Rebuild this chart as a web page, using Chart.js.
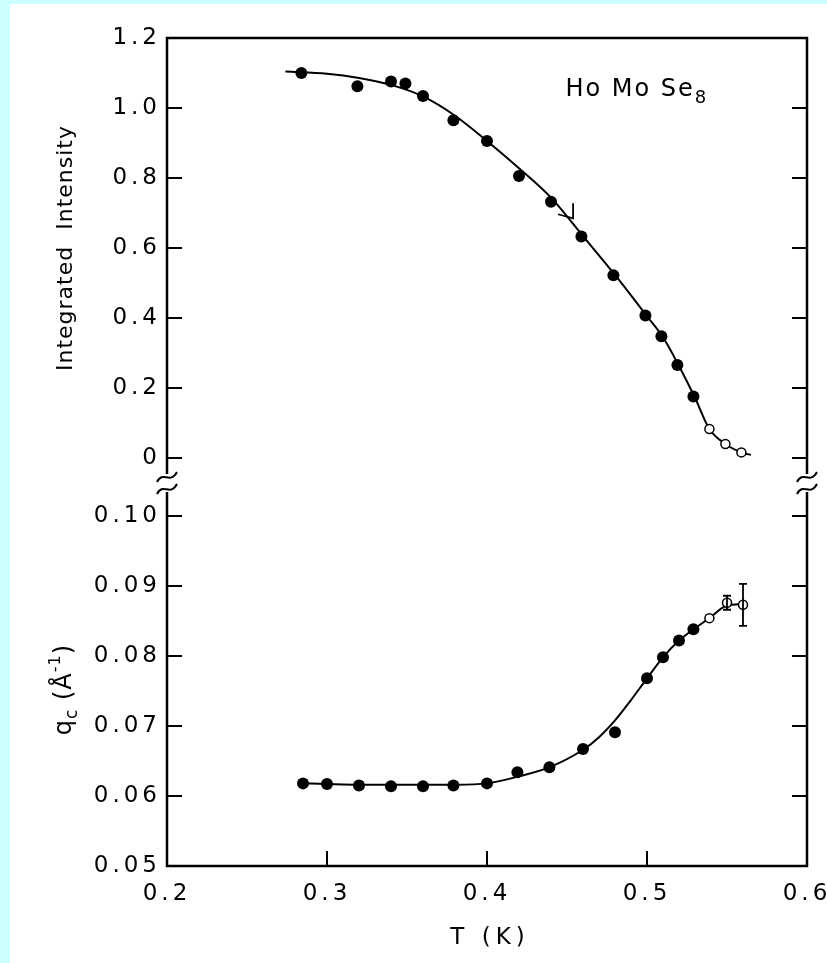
<!DOCTYPE html>
<html>
<head>
<meta charset="utf-8">
<script src="https://cdn.jsdelivr.net/npm/chart.js@4/dist/chart.umd.min.js"></script>
<style>
  html, body { margin: 0; padding: 0; background: #ccffff; }
  #wrap { position: absolute; left: 10px; top: 4px; width: 817px; height: 959px; background: #fff; }
</style>
</head>
<body>
<div id="wrap"><canvas id="myChart" width="817" height="959"></canvas></div>
<script>
'use strict';

// upper panel: integrated intensity vs T (K)
let intTempFilled = [0.284, 0.319, 0.340, 0.349, 0.360, 0.379, 0.400, 0.420, 0.440, 0.459, 0.479, 0.499, 0.509, 0.519, 0.529];
let intFilled = [1.100, 1.062, 1.076, 1.070, 1.034, 0.965, 0.906, 0.806, 0.732, 0.633, 0.522, 0.407, 0.348, 0.266, 0.176];
let intTempOpen = [0.539, 0.549, 0.559];
let intOpen = [0.083, 0.040, 0.016];
let intCurveT = [0.274, 0.30, 0.32, 0.34, 0.36, 0.38, 0.40, 0.42, 0.44, 0.46, 0.48, 0.50, 0.51, 0.52, 0.53, 0.539, 0.549, 0.559, 0.565];
let intCurve = [1.104, 1.098, 1.086, 1.066, 1.033, 0.978, 0.906, 0.828, 0.744, 0.634, 0.523, 0.405, 0.345, 0.263, 0.172, 0.083, 0.040, 0.016, 0.009];
// little arrow on the curve
let arrowT = 0.4538;
let arrowI = 0.685;

// lower panel: q_c vs T (K)
let qTempFilled = [0.285, 0.300, 0.320, 0.340, 0.360, 0.379, 0.400, 0.419, 0.439, 0.460, 0.480, 0.500, 0.510, 0.520, 0.529];
let qFilled = [0.0618, 0.0617, 0.0615, 0.0614, 0.0614, 0.0615, 0.0618, 0.0634, 0.0641, 0.0667, 0.0691, 0.0768, 0.0798, 0.0822, 0.0838];
let qTempOpen = [0.539, 0.550, 0.560];
let qOpen = [0.0854, 0.0876, 0.0873];
let qOpenErr = [0, 0.0010, 0.0030];
let qCurveT = [0.285, 0.30, 0.32, 0.34, 0.36, 0.38, 0.40, 0.42, 0.44, 0.46, 0.47, 0.48, 0.49, 0.50, 0.51, 0.52, 0.529, 0.539, 0.550, 0.560];
let qCurve = [0.0618, 0.0617, 0.0616, 0.0616, 0.0616, 0.0616, 0.0618, 0.0628, 0.0642, 0.0666, 0.0684, 0.0708, 0.0737, 0.0768, 0.0798, 0.0822, 0.0838, 0.0854, 0.0872, 0.0874];

// ticks
let xTicks = [0.2, 0.3, 0.4, 0.5, 0.6];
let xTickLabels = ['0.2', '0.3', '0.4', '0.5', '0.6'];
let intTicks = [0, 0.2, 0.4, 0.6, 0.8, 1.0, 1.2];
let intTickLabels = ['0', '0.2', '0.4', '0.6', '0.8', '1.0', '1.2'];
let qTicks = [0.05, 0.06, 0.07, 0.08, 0.09, 0.10];
let qTickLabels = ['0.05', '0.06', '0.07', '0.08', '0.09', '0.10'];

const FONT = '"DejaVu Sans", sans-serif';

function toPoints(xs, ys) {
  return xs.map((x, i) => ({ x: x, y: ys[i] }));
}

function drawTilde(ctx, x, y) {
  ctx.beginPath();
  ctx.moveTo(x - 10, y + 5);
  ctx.bezierCurveTo(x - 4, y - 7, x + 3, y + 8, x + 10, y - 5);
  ctx.stroke();
}

let frame = {
  id: 'frame',
  beforeDraw(chart) {
    // wide spacing of the tick numbers
    chart.ctx.letterSpacing = '4px';
  },
  afterDraw(chart) {
    let ctx = chart.ctx;
    let a = chart.chartArea;
    let xs = chart.scales.x;
    let yI = chart.scales.yI;
    let yQ = chart.scales.yQ;
    let brk = (yI.bottom + yQ.top) / 2;
    ctx.save();
    ctx.letterSpacing = '0px';
    ctx.strokeStyle = '#000';
    ctx.lineCap = 'butt';

    // box with a gap at the break
    ctx.lineWidth = 2.5;
    ctx.beginPath();
    ctx.moveTo(a.left, brk - 9);
    ctx.lineTo(a.left, a.top);
    ctx.lineTo(a.right, a.top);
    ctx.lineTo(a.right, brk - 9);
    ctx.moveTo(a.left, brk + 9);
    ctx.lineTo(a.left, a.bottom);
    ctx.lineTo(a.right, a.bottom);
    ctx.lineTo(a.right, brk + 9);
    ctx.stroke();

    ctx.lineWidth = 2;
    drawTilde(ctx, a.left, brk - 6);
    drawTilde(ctx, a.left, brk + 6);
    drawTilde(ctx, a.right, brk - 6);
    drawTilde(ctx, a.right, brk + 6);

    // inward ticks
    let len = 15;
    ctx.beginPath();
    intTicks.forEach(v => {
      if (v === yI.max) return;
      let py = yI.getPixelForValue(v);
      ctx.moveTo(a.left, py); ctx.lineTo(a.left + len, py);
      ctx.moveTo(a.right, py); ctx.lineTo(a.right - len, py);
    });
    qTicks.forEach(v => {
      if (v === yQ.min) return;
      let py = yQ.getPixelForValue(v);
      ctx.moveTo(a.left, py); ctx.lineTo(a.left + len, py);
      ctx.moveTo(a.right, py); ctx.lineTo(a.right - len, py);
    });
    xTicks.forEach(v => {
      if (v === xs.min || v === xs.max) return;
      let px = xs.getPixelForValue(v);
      ctx.moveTo(px, a.bottom); ctx.lineTo(px, a.bottom - len);
    });
    ctx.stroke();

    // error bars on the open q points
    ctx.lineWidth = 1.8;
    ctx.beginPath();
    qOpenErr.forEach((e, i) => {
      if (!e) return;
      let px = xs.getPixelForValue(qTempOpen[i]);
      let top = yQ.getPixelForValue(qOpen[i] + e);
      let bot = yQ.getPixelForValue(qOpen[i] - e);
      ctx.moveTo(px, top); ctx.lineTo(px, bot);
      ctx.moveTo(px - 4, top); ctx.lineTo(px + 4, top);
      ctx.moveTo(px - 4, bot); ctx.lineTo(px + 4, bot);
    });
    ctx.stroke();

    // arrow mark on the intensity curve
    let ax = xs.getPixelForValue(arrowT);
    let ay = yI.getPixelForValue(arrowI);
    ctx.lineWidth = 1.8;
    ctx.beginPath();
    ctx.moveTo(ax, ay - 15);
    ctx.lineTo(ax, ay);
    ctx.lineTo(ax - 15, ay - 4);
    ctx.stroke();

    // texts
    ctx.fillStyle = '#000';
    ctx.textBaseline = 'alphabetic';
    ctx.letterSpacing = '2px';
    ctx.font = '24px ' + FONT;
    ctx.textAlign = 'left';
    let hx = xs.getPixelForValue(0.449);
    let hy = yI.getPixelForValue(1.035);
    ctx.fillText('Ho Mo Se', hx, hy);
    let w = ctx.measureText('Ho Mo Se').width;
    ctx.font = '18px ' + FONT;
    ctx.fillText('8', hx + w, hy + 7);

    // x title
    ctx.letterSpacing = '5px';
    ctx.font = '23px ' + FONT;
    ctx.textAlign = 'center';
    ctx.fillText('T (K)', (a.left + a.right) / 2 + 3, 940);

    // y titles
    ctx.letterSpacing = '1px';
    ctx.save();
    ctx.translate(62, yI.getPixelForValue(0.6));
    ctx.rotate(-Math.PI / 2);
    ctx.font = '22px ' + FONT;
    ctx.textAlign = 'center';
    ctx.fillText('Integrated  Intensity', 0, 0);
    ctx.restore();

    ctx.save();
    ctx.translate(61, yQ.getPixelForValue(0.0752));
    ctx.rotate(-Math.PI / 2);
    ctx.textAlign = 'left';
    let parts = [
      { t: 'q', size: 24, dy: 0 },
      { t: 'c', size: 17, dy: 6 },
      { t: ' (Å', size: 24, dy: 0 },
      { t: '-1', size: 16, dy: -11 },
      { t: ')', size: 24, dy: 0 }
    ];
    let total = 0;
    parts.forEach(p => {
      ctx.font = p.size + 'px ' + FONT;
      p.w = ctx.measureText(p.t).width;
      total += p.w;
    });
    let cx = -total / 2;
    parts.forEach(p => {
      ctx.font = p.size + 'px ' + FONT;
      ctx.fillText(p.t, cx, p.dy);
      cx += p.w;
    });
    ctx.restore();

    ctx.restore();
  }
};

function yTickFont() {
  return { family: FONT, size: 23 };
}

let config = {
  type: 'scatter',
  data: {
    datasets: [
      {
        data: toPoints(intTempFilled, intFilled), yAxisID: 'yI', order: 0,
        pointRadius: 6, pointBackgroundColor: '#000', pointBorderWidth: 0
      },
      {
        data: toPoints(intTempOpen, intOpen), yAxisID: 'yI', order: 0,
        pointRadius: 4.5, pointBackgroundColor: '#fff', pointBorderColor: '#000', pointBorderWidth: 1.5
      },
      {
        data: toPoints(intCurveT, intCurve), yAxisID: 'yI', order: 1,
        showLine: true, pointRadius: 0, borderColor: '#000', borderWidth: 2, cubicInterpolationMode: 'monotone'
      },
      {
        data: toPoints(qTempFilled, qFilled), yAxisID: 'yQ', order: 0,
        pointRadius: 6, pointBackgroundColor: '#000', pointBorderWidth: 0
      },
      {
        data: toPoints(qTempOpen, qOpen), yAxisID: 'yQ', order: 0,
        pointRadius: 4.5, pointBackgroundColor: '#fff', pointBorderColor: '#000', pointBorderWidth: 1.5
      },
      {
        data: toPoints(qCurveT, qCurve), yAxisID: 'yQ', order: 1,
        showLine: true, pointRadius: 0, borderColor: '#000', borderWidth: 2, cubicInterpolationMode: 'monotone'
      }
    ]
  },
  options: {
    responsive: false,
    animation: false,
    events: [],
    layout: { padding: { top: 34, right: 20, left: 0, bottom: 0 } },
    plugins: { legend: { display: false }, tooltip: { enabled: false } },
    scales: {
      x: {
        type: 'linear', min: 0.2, max: 0.6,
        grid: { display: false, drawTicks: false },
        border: { display: false },
        afterBuildTicks: axis => { axis.ticks = xTicks.map(v => ({ value: v })); },
        afterFit: scale => { scale.height = 97; scale.paddingLeft = 0; scale.paddingRight = 0; },
        ticks: {
          autoSkip: false, maxRotation: 0, padding: 14, color: '#000',
          font: { family: FONT, size: 23 },
          callback: (v, i) => xTickLabels[i]
        }
      },
      // the later stacked axis is placed on top, so q_c comes first
      yQ: {
        type: 'linear', position: 'left', stack: 'y', stackWeight: 383,
        min: 0.05, max: 0.1047,
        grid: { display: false, drawTicks: false },
        border: { display: false },
        afterBuildTicks: axis => { axis.ticks = qTicks.map(v => ({ value: v })); },
        afterFit: scale => { scale.width = 157; scale.paddingTop = 0; scale.paddingBottom = 0; },
        ticks: {
          autoSkip: false, padding: 6, color: '#000', font: yTickFont(),
          callback: (v, i) => qTickLabels[i]
        }
      },
      yI: {
        type: 'linear', position: 'left', stack: 'y', stackWeight: 445,
        min: -0.0714, max: 1.2,
        grid: { display: false, drawTicks: false },
        border: { display: false },
        afterBuildTicks: axis => { axis.ticks = intTicks.map(v => ({ value: v })); },
        afterFit: scale => { scale.width = 157; scale.paddingTop = 0; scale.paddingBottom = 0; },
        ticks: {
          autoSkip: false, padding: 6, color: '#000', font: yTickFont(),
          callback: (v, i) => intTickLabels[i]
        }
      }
    }
  },
  plugins: [frame]
};

let myChart = new Chart(document.getElementById('myChart'), config);
</script>
</body>
</html>
